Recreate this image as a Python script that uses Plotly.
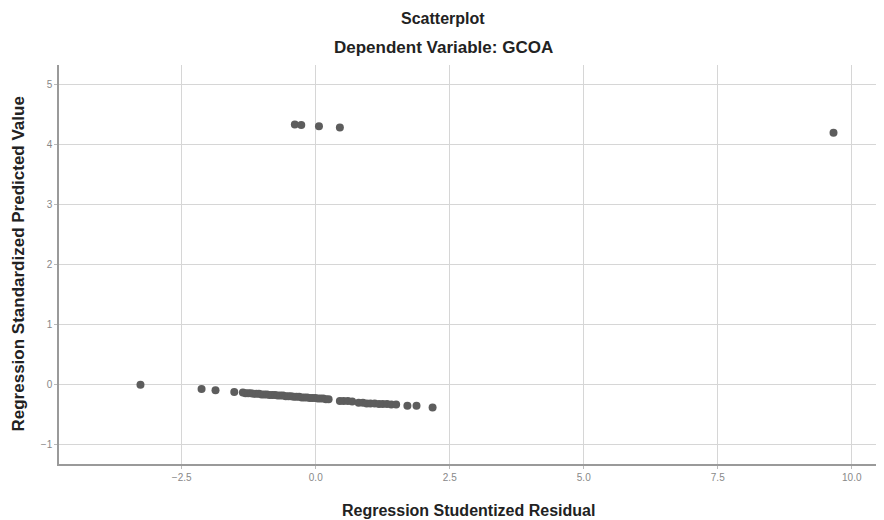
import plotly.graph_objects as go

# Regression Studentized Residual (x) vs Regression Standardized Predicted Value (y)
resid_x = [
    -3.27, -2.13, -1.87, -1.52,
    -1.36, -1.31, -1.26, -1.21, -1.16, -1.11, -1.06, -1.01, -0.96, -0.91,
    -0.86, -0.81, -0.76, -0.71, -0.66, -0.61, -0.56, -0.51, -0.46, -0.41,
    -0.36, -0.31, -0.26, -0.21, -0.16, -0.11, -0.06, -0.01, 0.04, 0.09,
    0.14, 0.19, 0.24,
    0.45, 0.52, 0.60, 0.68,
    0.80, 0.88, 0.95, 1.02, 1.10, 1.18, 1.25, 1.33, 1.41, 1.50,
    1.71, 1.88, 2.18,
    -0.39, -0.27, 0.06, 0.45, 9.66,
]
pred_y = [
    0.00, -0.07, -0.09, -0.12,
    -0.13, -0.14, -0.14, -0.14, -0.15, -0.15, -0.15, -0.16, -0.16, -0.16,
    -0.17, -0.17, -0.17, -0.18, -0.18, -0.18, -0.19, -0.19, -0.19, -0.20,
    -0.20, -0.20, -0.21, -0.21, -0.21, -0.22, -0.22, -0.22, -0.23, -0.23,
    -0.23, -0.24, -0.24,
    -0.27, -0.27, -0.27, -0.28,
    -0.30, -0.30, -0.31, -0.31, -0.31, -0.32, -0.32, -0.32, -0.33, -0.33,
    -0.35, -0.35, -0.38,
    4.34, 4.33, 4.31, 4.29, 4.20,
]

x_ticks = [-2.5, 0.0, 2.5, 5.0, 7.5, 10.0]
y_ticks = [-1, 0, 1, 2, 3, 4, 5]

fig = go.Figure()
fig.add_trace(go.Scatter(
    x=resid_x, y=pred_y, mode="markers",
    marker=dict(size=8, color="#5d5d5d", line=dict(width=0)),
    hoverinfo="x+y", showlegend=False,
))

font_main = "Liberation Sans, Arial, sans-serif"
dark = "#222222"

fig.update_layout(
    width=876, height=512,
    margin=dict(l=51, r=6, t=57, b=56),
    paper_bgcolor="white", plot_bgcolor="white",
    font=dict(family=font_main, color=dark),
    xaxis=dict(
        range=[-4.79, 10.49], tickvals=x_ticks, tickformat=".1f",
        showgrid=True, gridcolor="#d6d6d6", gridwidth=1,
        zeroline=False, showline=True, linecolor="#9a9a9a", linewidth=1.5,
        ticks="outside", ticklen=3, tickcolor="#bbbbbb",
        tickfont=dict(size=10, color="#888888"),
    ),
    yaxis=dict(
        range=[-1.32, 5.33], tickvals=y_ticks,
        showgrid=True, gridcolor="#d6d6d6", gridwidth=1,
        zeroline=False, showline=True, linecolor="#9a9a9a", linewidth=1.5,
        ticks="outside", ticklen=3, tickcolor="#bbbbbb",
        tickfont=dict(size=10, color="#888888"),
    ),
    annotations=[
        dict(text="<b>Scatterplot</b>", xref="paper", yref="paper",
             x=0.469, y=1.0, yshift=47, yanchor="middle", showarrow=False,
             font=dict(size=16, color=dark)),
        dict(text="<b>Dependent Variable: GCOA</b>", xref="paper", yref="paper",
             x=0.469, y=1.0, yshift=18, yanchor="middle", showarrow=False,
             font=dict(size=17, color=dark)),
        dict(text="<b>Regression Studentized Residual</b>", xref="paper", yref="paper",
             x=0.5, y=0.0, yshift=-46, yanchor="middle", showarrow=False,
             font=dict(size=16, color=dark)),
        dict(text="<b>Regression Standardized Predicted Value</b>", xref="paper", yref="paper",
             x=0.0, y=0.5, xshift=-41, xanchor="center", yanchor="middle",
             textangle=-90, showarrow=False,
             font=dict(size=17, color=dark)),
    ],
)

fig.write_html("out.html")
